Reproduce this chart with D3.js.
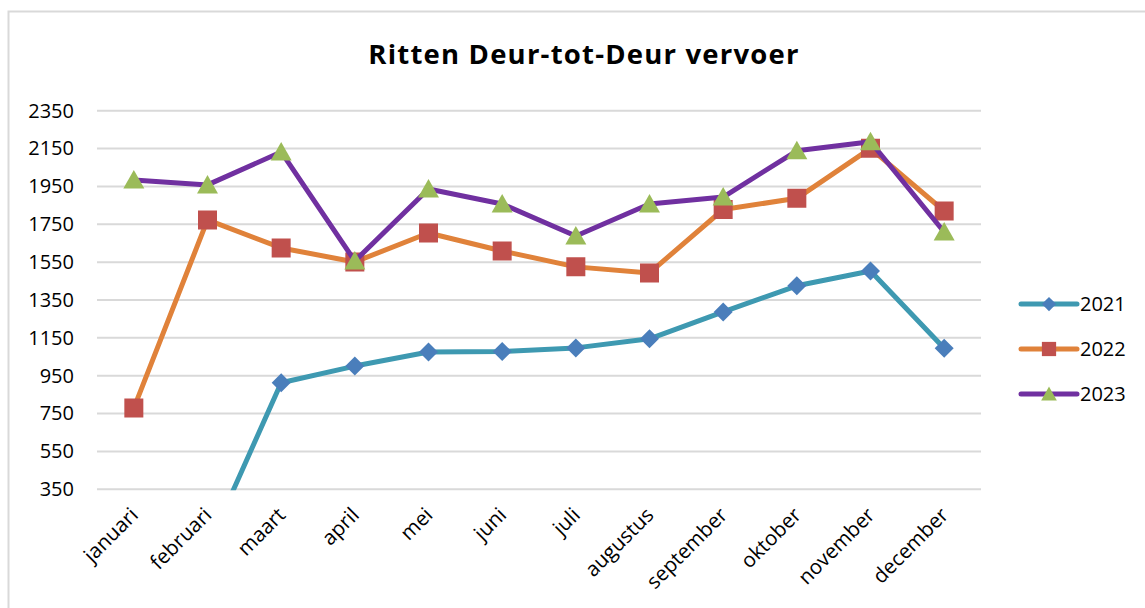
<!DOCTYPE html>
<html>
<head>
<meta charset="utf-8">
<script src="https://cdn.jsdelivr.net/npm/d3@7"></script>
<style>
  html, body { margin: 0; padding: 0; background: #fff; }
  svg { display: block; }
</style>
</head>
<body>
<svg id="chart" width="1145" height="608"></svg>
<script>
// ---- data ----
const months = ["januari","februari","maart","april","mei","juni","juli","augustus","september","oktober","november","december"];
const yTicks = [350, 550, 750, 950, 1150, 1350, 1550, 1750, 1950, 2150, 2350];
const seriesNames = ["2021", "2022", "2023"];
const values2021 = [null, 40, 913, 1001, 1075, 1078, 1097, 1145, 1287, 1425, 1503, 1095];
const values2022 = [779, 1773, 1625, 1551, 1704, 1609, 1525, 1493, 1828, 1887, 2151, 1820];
const values2023 = [1984, 1958, 2132, 1556, 1936, 1857, 1688, 1857, 1894, 2138, 2186, 1709];
const title = "Ritten Deur-tot-Deur vervoer";

const series = [
  { name: seriesNames[0], values: values2021, line: "#3e99b1", marker: "#4a7ebb", shape: "diamond" },
  { name: seriesNames[1], values: values2022, line: "#e0823a", marker: "#c0504d", shape: "square" },
  { name: seriesNames[2], values: values2023, line: "#7030a0", marker: "#9bbb59", shape: "triangle" }
];

const FONT = "'Open Sans', Lato, sans-serif";
const svg = d3.select("#chart");

// chart border
svg.append("rect").attr("x", 8.5).attr("y", 11.5).attr("width", 1160).attr("height", 620)
  .attr("fill", "#fff").attr("stroke", "#d9d9d9").attr("stroke-width", 2);

const plot = { left: 97, right: 981, top: 110.7, bottom: 489.3 };
const x = d3.scalePoint().domain(months).range([plot.left, plot.right]).padding(0.5);
const y = d3.scaleLinear().domain([350, 2350]).range([plot.bottom, plot.top]);

// title
svg.append("text").attr("x", 584).attr("y", 64).attr("text-anchor", "middle")
  .attr("font-family", FONT).attr("font-weight", "bold").attr("font-size", 27.5)
  .attr("letter-spacing", 1.2)
  .attr("fill", "#000").text(title);

// gridlines
svg.append("g").selectAll("line").data(yTicks).join("line")
  .attr("x1", plot.left).attr("x2", plot.right)
  .attr("y1", d => y(d)).attr("y2", d => y(d))
  .attr("stroke", "#d9d9d9").attr("stroke-width", 2);

// y axis labels
const yAxis = d3.axisLeft(y).tickValues(yTicks).tickSize(0).tickPadding(0).tickFormat(d3.format("d"));
const yg = svg.append("g").attr("transform", `translate(${plot.left - 23},0)`).call(yAxis);
yg.select(".domain").remove();
yg.selectAll("text").attr("font-family", FONT).attr("font-size", 20).attr("fill", "#000");

// x axis labels
const xAxis = d3.axisBottom(x).tickSize(0).tickPadding(0);
const xg = svg.append("g").attr("transform", `translate(0,${plot.bottom})`).call(xAxis);
xg.select(".domain").remove();
xg.selectAll("text")
  .attr("font-family", FONT).attr("font-size", 20.5).attr("fill", "#000")
  .attr("text-anchor", "end").attr("dy", null).attr("y", 0)
  .attr("transform", "translate(5,27) rotate(-45)");

// clip
svg.append("clipPath").attr("id", "clip").append("rect")
  .attr("x", plot.left - 20).attr("y", plot.top - 30)
  .attr("width", plot.right - plot.left + 40).attr("height", plot.bottom - plot.top + 31);

const line = d3.line().defined(d => d.v != null).x(d => x(d.m)).y(d => y(d.v));

function markerPath(shape) {
  if (shape === "diamond") return "M0,-9.5L9.5,0L0,9.5L-9.5,0Z";
  if (shape === "square") return "M-9.5,-9.5H9.5V9.5H-9.5Z";
  return "M0,-10L10.5,8.5H-10.5Z";
}

const g = svg.append("g").attr("clip-path", "url(#clip)");
series.forEach(s => {
  const pts = s.values.map((v, i) => ({ m: months[i], v }));
  g.append("path").datum(pts).attr("d", line)
    .attr("fill", "none").attr("stroke", s.line).attr("stroke-width", 5)
    .attr("stroke-linejoin", "round").attr("stroke-linecap", "round");
  g.selectAll(null).data(pts.filter(d => d.v != null && d.v >= 350)).join("path")
    .attr("transform", d => `translate(${x(d.m)},${y(d.v)})`)
    .attr("d", markerPath(s.shape)).attr("fill", s.marker);
});

// legend
const legY = d3.scalePoint().domain(seriesNames).range([304, 394]);
const leg = svg.append("g").selectAll("g").data(series).join("g")
  .attr("transform", d => `translate(1021,${legY(d.name)})`);
leg.append("line").attr("x1", 0).attr("x2", 56).attr("y1", 0).attr("y2", 0)
  .attr("stroke", d => d.line).attr("stroke-width", 5).attr("stroke-linecap", "round");
leg.append("path").attr("transform", "translate(28,0) scale(0.75)")
  .attr("d", d => markerPath(d.shape)).attr("fill", d => d.marker);
leg.append("text").attr("x", 59).attr("y", 0).attr("dy", "0.35em")
  .attr("font-family", FONT).attr("font-size", 20).attr("fill", "#000")
  .text(d => d.name);
</script>
</body>
</html>
